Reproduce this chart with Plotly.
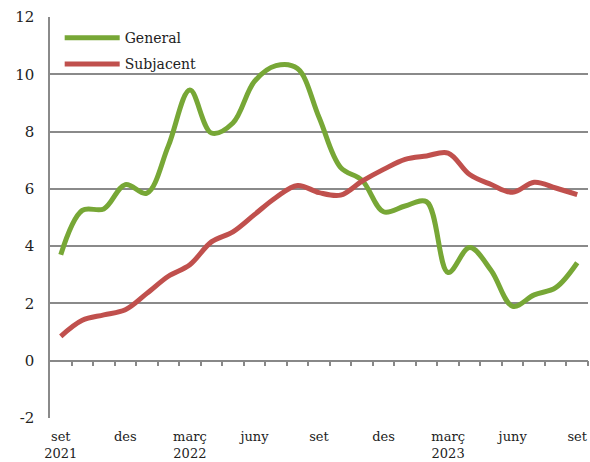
import plotly.graph_objects as go

months = list(range(25))
tick_pos = [0, 3, 6, 9, 12, 15, 18, 21, 24]
tick_text = ["set<br>2021", "des", "març<br>2022", "juny", "set", "des", "març<br>2023", "juny", "set"]
y_ticks = [-2, 0, 2, 4, 6, 8, 10, 12]
y_text = ["-2", "0", "2", "4", "6", "8", "10", "12"]

general = [3.7, 5.25, 5.3, 6.15, 5.85, 7.5, 9.45, 7.95, 8.3, 9.75, 10.3, 10.2, 8.5,
           6.75, 6.3, 5.2, 5.4, 5.55, 3.08, 3.95, 3.15, 1.9, 2.3, 2.55, 3.42]
subjacent = [0.85, 1.41, 1.6, 1.78, 2.35, 2.95, 3.35, 4.15, 4.5, 5.1, 5.7, 6.12, 5.87,
             5.78, 6.27, 6.68, 7.03, 7.15, 7.25, 6.5, 6.15, 5.88, 6.23, 6.03, 5.8]

green = "#77A736"
red = "#C0504D"
font_family = "DejaVu Serif"

fig = go.Figure()
fig.add_trace(go.Scatter(x=months, y=general, name="General", mode="lines", legendgroup="g",
                         line=dict(color=green, width=5, shape="spline", smoothing=1)))
fig.add_trace(go.Scatter(x=months, y=subjacent, name="Subjacent", mode="lines", legendgroup="s",
                         line=dict(color=red, width=5, shape="spline", smoothing=1)))
# invisible trace on the overlay axis carrying the category tick marks at y = 0
fig.add_trace(go.Scatter(x=months, y=general, xaxis="x2", mode="lines",
                         line=dict(width=0), showlegend=False, hoverinfo="skip"))

fig.update_layout(
    width=590, height=462,
    margin=dict(l=50, r=2, t=17, b=44),
    paper_bgcolor="white", plot_bgcolor="white",
    font=dict(family=font_family, size=14, color="#222"),
    showlegend=True,
    legend=dict(x=0.018, y=0.987, xanchor="left", yanchor="top",
                bgcolor="rgba(0,0,0,0)", itemwidth=55,
                font=dict(family=font_family, size=14, color="#222"),
                tracegroupgap=5),
    xaxis=dict(range=[-0.5, 24.5], tickvals=tick_pos, ticktext=tick_text,
               showgrid=False, zeroline=False, showline=False, ticks="",
               automargin=False, ticklabelstandoff=9,
               tickfont=dict(family=font_family, size=13, color="#222")),
    xaxis2=dict(range=[-0.5, 24.5], overlaying="x", anchor="free", position=2 / 14,
                side="bottom", tickvals=[i + 0.5 for i in range(25)],
                showticklabels=False, ticks="outside", ticklen=5, tickwidth=1.5,
                tickcolor="#888", showline=True, linecolor="#888", linewidth=1.5,
                showgrid=False, zeroline=False, automargin=False),
    yaxis=dict(range=[-2, 12], tickvals=y_ticks, ticktext=y_text,
               showgrid=True, gridcolor="#8a8a8a", gridwidth=1.5,
               zeroline=False, showline=True, linecolor="#8a8a8a", linewidth=1.5,
               ticks="", automargin=False, ticklabelstandoff=11,
               tickfont=dict(family=font_family, size=15, color="#222")),
)

fig.write_html("out.html", config={"displayModeBar": False},
               post_script="document.body.style.margin='0';")
